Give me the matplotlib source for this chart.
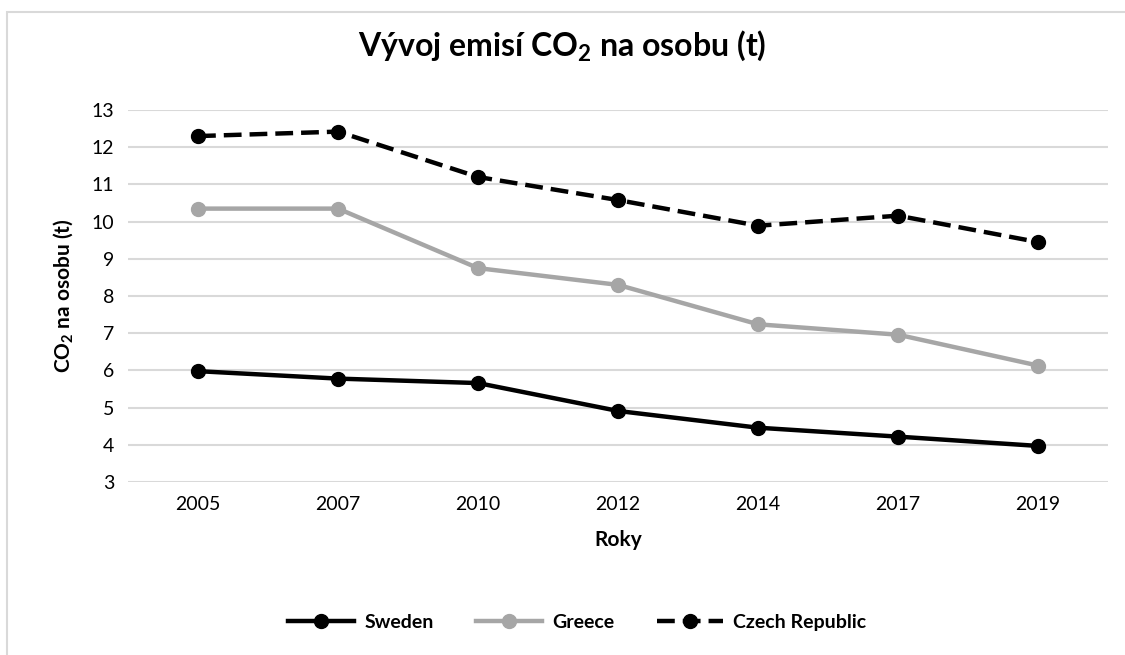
import matplotlib.pyplot as plt
from matplotlib.patches import Rectangle

years = ["2005", "2007", "2010", "2012", "2014", "2017", "2019"]
sweden = [5.98, 5.78, 5.66, 4.91, 4.46, 4.22, 3.97]
greece = [10.35, 10.35, 8.75, 8.30, 7.24, 6.96, 6.13]
czech = [12.30, 12.42, 11.20, 10.58, 9.89, 10.16, 9.45]

plt.rcParams['font.family'] = ['Lato', 'DejaVu Sans']
plt.rcParams['mathtext.default'] = 'regular'

fig = plt.figure(figsize=(11.25, 6.55), dpi=100)
ax = fig.add_axes([0.1138, 0.2641, 0.8712, 0.5679])

# chart border
fig.patches.append(Rectangle((7 / 1125, -0.05), 1.1, 1 - 12 / 655 + 0.05,
                             transform=fig.transFigure, fill=False,
                             edgecolor="#d9d9d9", linewidth=1.5))

x = range(len(years))
ax.plot(x, sweden, color="black", lw=3.2, marker="o", ms=10, label="Sweden")
ax.plot(x, greece, color="#a6a6a6", lw=3.2, marker="o", ms=10, label="Greece")
ax.plot(x, czech, color="black", lw=3.2, ls=(0, (4, 1.8)), marker="o", ms=10,
        label="Czech Republic")

ax.set_xlim(-0.5, len(years) - 0.5)
ax.set_ylim(3, 13)
ax.set_yticks(range(3, 14))
ax.set_xticks(list(x))
ax.set_xticklabels(years)
ax.tick_params(length=0, labelsize=14, pad=10)
ax.grid(axis="y", color="#d9d9d9", lw=1.5)
ax.set_axisbelow(True)
for s in ax.spines.values():
    s.set_visible(False)

ax.set_xlabel("Roky", fontsize=15, fontweight="bold", labelpad=12)
ax.set_ylabel("CO$_2$ na osobu (t)", fontsize=15, fontweight="bold", labelpad=12)
fig.text(0.5, 0.93, "Vývoj emisí CO$_2$ na osobu (t)", ha="center", va="center",
         fontsize=23, fontweight="bold")

fig.legend(loc="center", bbox_to_anchor=(0.513, 0.05), ncol=3, frameon=False,
           handlelength=3.4, handletextpad=0.5, columnspacing=2.2,
           prop={"weight": "bold", "size": 14})

fig.savefig("out.png", dpi=100)
